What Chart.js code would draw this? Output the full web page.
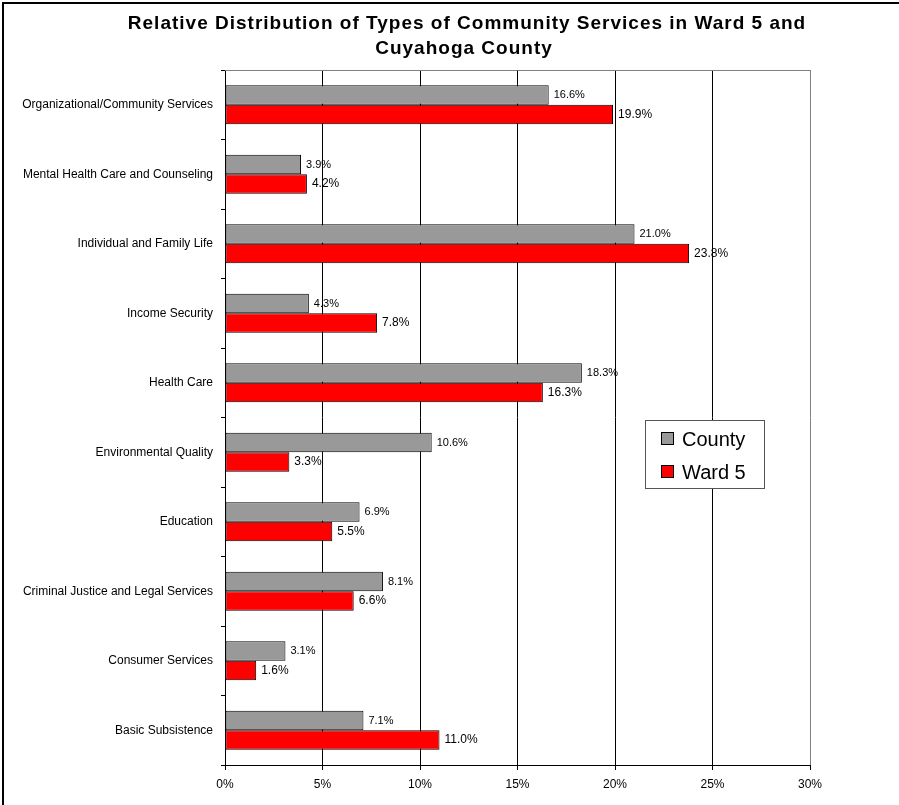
<!DOCTYPE html>
<html>
<head>
<meta charset="utf-8">
<script src="https://cdn.jsdelivr.net/npm/chart.js@4.4.1/dist/chart.umd.min.js"></script>
<style>
html,body{margin:0;padding:0;background:#fff;}
#wrap{width:899px;height:805px;position:relative;}
</style>
</head>
<body>
<div id="wrap"><canvas id="c" width="899" height="805"></canvas></div>
<script>
const categories = [
  "Organizational/Community Services",
  "Mental Health Care and Counseling",
  "Individual and Family Life",
  "Income Security",
  "Health Care",
  "Environmental Quality",
  "Education",
  "Criminal Justice and Legal Services",
  "Consumer Services",
  "Basic Subsistence"
];
const countyValues = [16.6, 3.9, 21.0, 4.3, 18.3, 10.6, 6.9, 8.1, 3.1, 7.1];
const ward5Values  = [19.9, 4.2, 23.8, 7.8, 16.3, 3.3, 5.5, 6.6, 1.6, 11.0];
const xTickValues = [0, 5, 10, 15, 20, 25, 30];
const titleLines = ["Relative Distribution of Types of Community Services in Ward 5 and", "Cuyahoga County"];
const seriesNames = ["County", "Ward 5"];

const FONT = "'Liberation Sans', Arial, sans-serif";

const framePlugin = {
  id: 'frame',
  beforeDraw(chart) {
    const ctx = chart.ctx;
    ctx.save();
    ctx.fillStyle = '#fff';
    ctx.fillRect(0, 0, chart.width, chart.height);
    ctx.fillStyle = '#000';
    ctx.fillRect(2, 2, chart.width - 2, 2);
    ctx.fillRect(2, 2, 2, chart.height - 2);
    // title
    ctx.fillStyle = '#000';
    ctx.font = "bold 19px " + FONT;
    try { ctx.letterSpacing = '1px'; } catch (e) {}
    ctx.textAlign = 'center';
    ctx.textBaseline = 'alphabetic';
    ctx.fillText(titleLines[0], 467, 29);
    ctx.fillText(titleLines[1], 464, 54);
    try { ctx.letterSpacing = '0px'; } catch (e) {}
    ctx.restore();
  },
  beforeDatasetsDraw(chart) {
    const ctx = chart.ctx, a = chart.chartArea;
    ctx.save();
    ctx.strokeStyle = '#808080';
    ctx.lineWidth = 1;
    ctx.beginPath();
    ctx.moveTo(a.left, Math.round(a.top) + 0.5);
    ctx.lineTo(a.right, Math.round(a.top) + 0.5);
    ctx.stroke();
    ctx.restore();
  },
  afterDatasetsDraw(chart) {
    const ctx = chart.ctx;
    ctx.save();
    ctx.fillStyle = '#000';
    ctx.textAlign = 'left';
    ctx.textBaseline = 'middle';
    chart.data.datasets.forEach((ds, di) => {
      const meta = chart.getDatasetMeta(di);
      ctx.font = (di === 0 ? "11px " : "12px ") + FONT;
      meta.data.forEach((bar, i) => {
        const v = ds.data[i];
        ctx.fillText(v.toFixed(1) + '%', bar.x + 5, bar.y);
      });
    });
    // legend
    const lx = 645, ly = 420, lw = 119, lh = 68;
    ctx.fillStyle = '#fff';
    ctx.fillRect(lx, ly, lw, lh);
    ctx.strokeStyle = '#555';
    ctx.lineWidth = 1;
    ctx.strokeRect(lx + 0.5, ly + 0.5, lw, lh);
    ctx.font = "20px " + FONT;
    ctx.textBaseline = 'alphabetic';
    chart.data.datasets.forEach((ds, di) => {
      const sy = 432 + di * 33;
      ctx.fillStyle = ds.backgroundColor;
      ctx.fillRect(661, sy, 13, 13);
      ctx.strokeStyle = '#000';
      ctx.strokeRect(661.5, sy + 0.5, 12, 12);
      ctx.fillStyle = '#000';
      ctx.fillText(ds.label, 682, sy + 14);
    });
    ctx.restore();
  }
};

new Chart(document.getElementById('c'), {
  type: 'bar',
  data: {
    labels: categories,
    datasets: [
      { label: seriesNames[0], data: countyValues, backgroundColor: '#999999', borderColor: '#000', borderWidth: 1, borderSkipped: false },
      { label: seriesNames[1], data: ward5Values, backgroundColor: '#ff0000', borderColor: '#000', borderWidth: 1, borderSkipped: false }
    ]
  },
  options: {
    indexAxis: 'y',
    responsive: false,
    animation: false,
    devicePixelRatio: 1,
    categoryPercentage: 0.56,
    barPercentage: 1.0,
    layout: { padding: { top: 70, right: 89, bottom: 0, left: 0 } },
    plugins: { legend: { display: false }, title: { display: false }, tooltip: { enabled: false } },
    scales: {
      x: {
        min: 0, max: 30,
        afterBuildTicks(scale) { scale.ticks = xTickValues.map(v => ({ value: v })); },
        afterFit(scale) { scale.height = 40; },
        ticks: { callback: v => v + '%', color: '#000', font: { family: FONT, size: 12 }, padding: 7, maxRotation: 0 },
        grid: { color: ctx => (ctx.tick && ctx.tick.value === 30) ? '#808080' : '#000', lineWidth: 1, tickLength: 5, drawOnChartArea: true, drawTicks: true, tickColor: '#000' },
        border: { color: '#000', width: 1 }
      },
      y: {
        afterFit(scale) { scale.width = 225; },
        ticks: { color: '#000', font: { family: FONT, size: 12 }, padding: 8, autoSkip: false },
        grid: { drawOnChartArea: false, tickLength: 4, color: '#000', offset: true },
        border: { color: '#000', width: 1 }
      }
    }
  },
  plugins: [framePlugin]
});
</script>
</body>
</html>
